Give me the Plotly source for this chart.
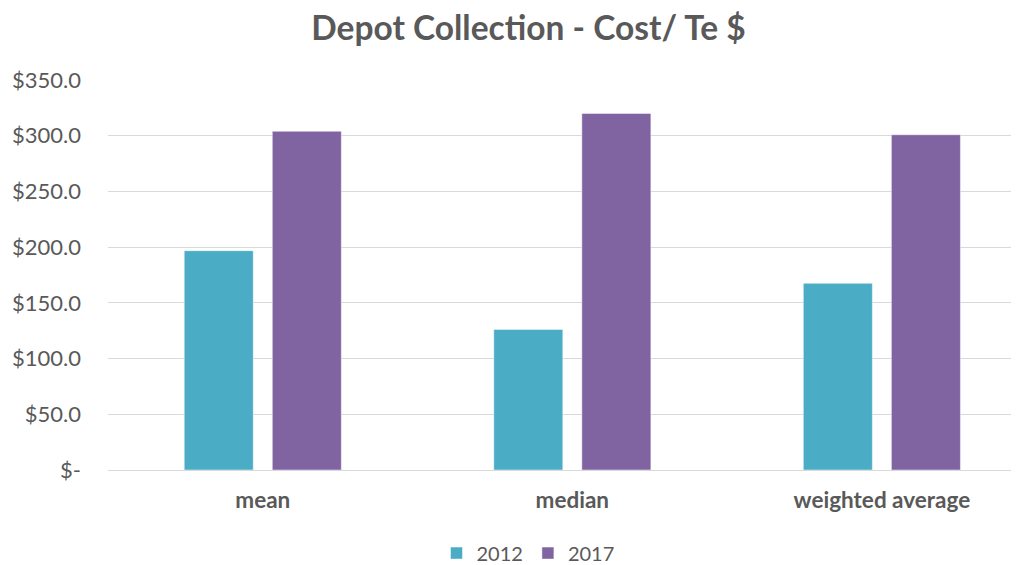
import plotly.graph_objects as go

categories = ["mean", "median", "weighted average"]
series_names = ["2012", "2017"]
values_2012 = [196.8, 126.2, 167.5]
values_2017 = [304.0, 320.0, 300.9]
colors = ["#4BACC6", "#8064A2"]
ytick_vals = [0, 50, 100, 150, 200, 250, 300, 350]
ytick_text = ["$-", "$50.0", "$100.0", "$150.0", "$200.0", "$250.0", "$300.0", "$350.0"]

FONT = "Lato"
GREY = "#595959"
OFF = 8  # page body margin

fig = go.Figure()
for name, vals, col in zip(series_names, [values_2012, values_2017], colors):
    fig.add_trace(go.Bar(
        x=categories, y=vals, name=name,
        marker=dict(color=col, line=dict(color="rgba(255,255,255,0.6)", width=0.8)),
    ))

fig.update_layout(
    width=1019, height=565,
    paper_bgcolor="white", plot_bgcolor="white",
    margin=dict(l=108 - OFF, r=OFF, t=80 - OFF, b=565 - 470 + OFF, autoexpand=False),
    barmode="group", bargap=0.431, bargroupgap=0.216,
    title=dict(text="<b>Depot Collection - Cost/ Te $</b>",
               font=dict(family=FONT, size=33.5, color=GREY),
               x=(528.5 - OFF) / 1019, xanchor="center", xref="container",
               y=1 - (28 - OFF) / 565, yanchor="middle", yref="container"),
    font=dict(family=FONT, color=GREY),
    legend=dict(orientation="h", x=(528 - 108) / 911, xanchor="center",
                y=-0.213, yanchor="middle",
                font=dict(family=FONT, size=20, color=GREY),
                itemwidth=30, tracegroupgap=0),
    showlegend=True,
)
fig.update_xaxes(
    range=[-0.5, 2.443], showgrid=False, showline=False, zeroline=False,
    ticks="", tickfont=dict(family=FONT, size=22.5, color=GREY),
    ticklabelstandoff=14, automargin=False,
)
fig.update_xaxes(tickvals=list(range(len(categories))), ticktext=["<b>%s</b>" % c for c in categories])
fig.update_yaxes(
    range=[0, 350], tickvals=ytick_vals, ticktext=ytick_text,
    showgrid=True, gridcolor="#D9D9D9", gridwidth=1.3,
    zeroline=True, zerolinecolor="#D9D9D9", zerolinewidth=1.3,
    showline=False, ticks="", tickfont=dict(family=FONT, size=22, color=GREY),
    ticklabelstandoff=26, automargin=False,
)
fig.write_html("out.html")
